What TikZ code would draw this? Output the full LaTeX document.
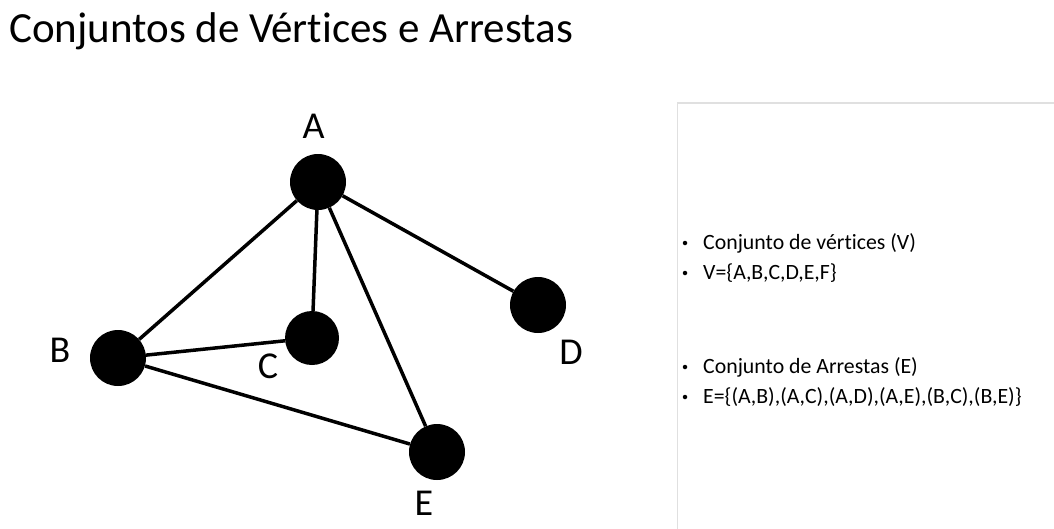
\documentclass[tikz,border=0pt]{standalone}
\usepackage{fontspec}
\setmainfont{Carlito}[RawFeature=-liga]
\begin{document}
\begin{tikzpicture}[x=1pt,y=-1pt,
  vert/.style={circle,fill=black,inner sep=0pt,minimum size=56pt},
  lbl/.style={font=\fontsize{38}{42}\selectfont,inner sep=0pt},
  edge/.style={line width=3.5pt},
  dot/.style={circle,fill=black,inner sep=0pt,minimum size=4.5pt},
  item/.style={font=\fontsize{21.8}{25}\selectfont,anchor=west,inner sep=0pt}]
\useasboundingbox (0,0) rectangle (1054,528);
\fill[white] (0,0) rectangle (1054,528);
\node[anchor=west,inner sep=0pt,font=\fontsize{43}{50}\selectfont] (title) at (9,31) {Conjuntos de Vértices e Arrestas};
\draw[line width=1.2pt,color=black!12] (1060,103) -- (677.5,103) -- (677.5,535);
\node[vert] (A) at (318,182) {};
\node[vert] (B) at (118,358) {};
\node[vert,minimum size=54pt] (C) at (312,338) {};
\node[vert] (D) at (538,305) {};
\node[vert] (E) at (437,452) {};
\draw[edge] (A) -- (B);
\draw[edge] (A) -- (C);
\draw[edge] (A) -- (D);
\draw[edge] (A) -- (E);
\draw[edge] (B) -- (C);
\draw[edge] (B) -- (E);
\node[lbl] (lA) at (313.5,126.5) {A};
\node[lbl] (lB) at (60,350) {B};
\node[lbl] (lC) at (268,366) {C};
\node[lbl] (lD) at (571,352) {D};
\node[lbl] (lE) at (424,503.5) {E};
\node[dot] (d1) at (685,243) {};
\node[dot] (d2) at (685,273) {};
\node[dot] (d3) at (685,367) {};
\node[dot] (d4) at (685,397) {};
\node[item] (b1) at (703,243) {Conjunto de vértices (V)};
\node[item] (b2) at (703,273) {V=\{A,B,C,D,E,F\}};
\node[item] (b3) at (703,367) {Conjunto de Arrestas (E)};
\node[item] (b4) at (703,397) {E=\{(A,B),(A,C),(A,D),(A,E),(B,C),(B,E)\}};
\end{tikzpicture}
\end{document}
